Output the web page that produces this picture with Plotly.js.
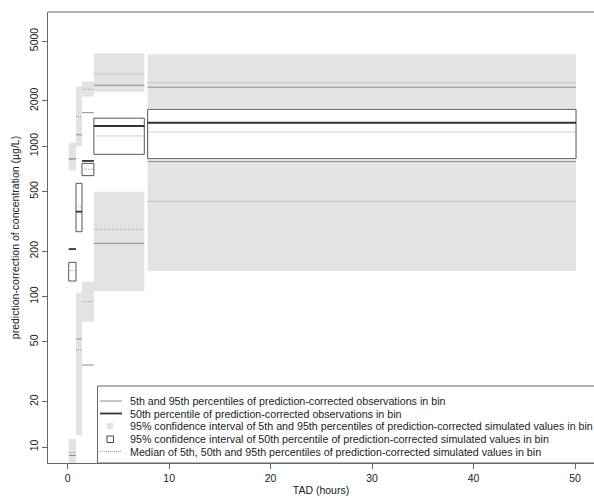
<!DOCTYPE html>
<html>
<head>
<meta charset="utf-8">
<script src="https://cdn.plot.ly/plotly-3.0.1.min.js"></script>
<style>
  html, body { margin: 0; padding: 0; background: #fff; }
  #vpc { width: 594px; height: 496px; }
</style>
</head>
<body>
<div id="vpc"></div>
<script>
// Time-after-dose bins (hours)
const binLo = [0.10, 0.82, 1.41, 2.58, 7.88];
const binHi = [0.82, 1.41, 2.58, 7.55, 50.1];

// 95% CI of the simulated 95th percentile
const ci95Lo = [690, 1000, 2130, 2300, 1790];
const ci95Hi = [1060, 2490, 2690, 4150, 4080];
// 95% CI of the simulated 50th percentile
const ci50Lo = [127, 270, 637, 883, 826];
const ci50Hi = [169, 566, 769, 1535, 1758];
// 95% CI of the simulated 5th percentile
const ci5Lo = [6, 12.0, 68, 109, 148];
const ci5Hi = [11.3, 106, 126, 498, 810];

// Medians of simulated percentiles
const sim95 = [815, 1570, 2390, 3020, 2640];
const sim50 = [149, 396, 702, 1170, 1242];
const sim5 = [9.2, 44.2, 92.5, 280, 430];

// Prediction-corrected observed percentiles
const obs95 = [825, 1190, 1670, 2540, 2465];
const obs50 = [207, 367, 798, 1362, 1432];
const obs5 = [8.8, 52.3, 35.1, 226, 790];

const xTicks = [0, 10, 20, 30, 40, 50];
const yTicks = [10, 20, 50, 100, 200, 500, 1000, 2000, 5000];

const legendLabels = [
  "5th and 95th percentiles of prediction-corrected observations in bin",
  "50th percentile of prediction-corrected observations in bin",
  "95% confidence interval of 5th and 95th percentiles of prediction-corrected simulated values in bin",
  "95% confidence interval of 50th percentile of prediction-corrected simulated values in bin",
  "Median of 5th, 50th and 95th percentiles of prediction-corrected simulated values in bin"
];

// one closed rectangle per bin, segments separated by null
function boxes(lo, hi) {
  const x = [], y = [];
  for (let i = 0; i < binLo.length; i++) {
    x.push(binLo[i], binHi[i], binHi[i], binLo[i], binLo[i], null);
    y.push(lo[i], lo[i], hi[i], hi[i], lo[i], null);
  }
  return { x, y };
}
// one horizontal segment per bin
function steps(v) {
  const x = [], y = [];
  for (let i = 0; i < binLo.length; i++) {
    x.push(binLo[i], binHi[i], null);
    y.push(v[i], v[i], null);
  }
  return { x, y };
}

const grey = '#e3e3e3';
const dotted = { width: 1, color: '#a0a0a0', dash: '1px,1px' };
const traces = [];
const band95 = boxes(ci95Lo, ci95Hi);
const band5 = boxes(ci5Lo, ci5Hi);
[band95, band5].forEach(b => traces.push({
  x: b.x, y: b.y, type: 'scatter', mode: 'lines', fill: 'toself',
  fillcolor: grey, line: { width: 0, color: grey }, hoverinfo: 'skip'
}));
const band50 = boxes(ci50Lo, ci50Hi);
traces.push({
  x: band50.x, y: band50.y, type: 'scatter', mode: 'lines', fill: 'toself',
  fillcolor: '#ffffff', line: { width: 1, color: '#555555' }, hoverinfo: 'skip'
});
[sim95, sim50, sim5].forEach(v => {
  const s = steps(v);
  traces.push({ x: s.x, y: s.y, type: 'scatter', mode: 'lines',
    line: dotted, hoverinfo: 'skip' });
});
[obs95, obs5].forEach(v => {
  const s = steps(v);
  traces.push({ x: s.x, y: s.y, type: 'scatter', mode: 'lines',
    line: { width: 1, color: '#8c8c8c' }, hoverinfo: 'skip' });
});
const m = steps(obs50);
traces.push({ x: m.x, y: m.y, type: 'scatter', mode: 'lines',
  line: { width: 1.8, color: '#333333' }, hoverinfo: 'skip' });

// plot-area pixel frame used for the hand-drawn legend
const L = 48, R = 594, T = 12, B = 463;
const px = v => (v - L) / (R - L);
const py = v => (B - v) / (B - T);

const shapes = [
  // top edge of the frame
  { type: 'line', xref: 'paper', yref: 'paper', x0: 0, x1: 1, y0: 1, y1: 1,
    line: { color: '#666666', width: 1 } },
  // legend box
  { type: 'rect', xref: 'paper', yref: 'paper', x0: px(97.5), x1: 1.02, y0: 0, y1: py(386),
    fillcolor: '#ffffff', line: { color: '#666666', width: 1 }, layer: 'above' },
  { type: 'line', xref: 'paper', yref: 'paper', x0: px(100), x1: px(122), y0: py(401), y1: py(401),
    line: { color: '#8c8c8c', width: 1 }, layer: 'above' },
  { type: 'line', xref: 'paper', yref: 'paper', x0: px(100), x1: px(122), y0: py(413.5), y1: py(413.5),
    line: { color: '#333333', width: 1.8 }, layer: 'above' },
  { type: 'rect', xref: 'paper', yref: 'paper', x0: px(107), x1: px(113), y0: py(429), y1: py(423),
    fillcolor: grey, line: { width: 0 }, layer: 'above' },
  { type: 'rect', xref: 'paper', yref: 'paper', x0: px(107), x1: px(113.5), y0: py(442.5), y1: py(436),
    fillcolor: 'rgba(0,0,0,0)', line: { color: '#444444', width: 1 }, layer: 'above' },
  { type: 'line', xref: 'paper', yref: 'paper', x0: px(100), x1: px(122), y0: py(451.5), y1: py(451.5),
    line: dotted, layer: 'above' }
];

const FONT = 'Liberation Sans, Arial, sans-serif';
const rowY = [401, 413.5, 426, 439, 451.5];
const annotations = legendLabels.map((t, i) => ({
  text: t, xref: 'paper', yref: 'paper', x: px(128), y: py(rowY[i]),
  xanchor: 'left', yanchor: 'middle', showarrow: false,
  font: { family: FONT, size: 10.7, color: '#222222' }
}));

const layout = {
  width: 594, height: 496,
  margin: { l: L, r: 594 - R, t: T, b: 496 - B, pad: 0 },
  paper_bgcolor: '#ffffff', plot_bgcolor: '#ffffff',
  showlegend: false,
  font: { family: FONT, size: 10.5, color: '#222222' },
  xaxis: {
    range: [-1.94, 51.87], tickmode: 'array', tickvals: xTicks,
    ticks: 'outside', ticklen: 5, tickcolor: '#666666',
    showline: true, linecolor: '#666666', linewidth: 1, mirror: false,
    showgrid: false, zeroline: false,
    tickfont: { size: 10.5, color: '#222222' },
    title: { text: 'TAD (hours)', font: { size: 10.5, color: '#222222' }, standoff: 4 }
  },
  yaxis: {
    type: 'log', range: [0.894, 3.892], tickmode: 'array', tickvals: yTicks,
    ticktext: yTicks.map(String), tickangle: -90,
    ticks: 'outside', ticklen: 5, tickcolor: '#666666',
    showline: true, linecolor: '#666666', linewidth: 1, mirror: false,
    showgrid: false, zeroline: false,
    tickfont: { size: 10.5, color: '#222222' },
    title: { text: 'prediction-correction of concentration (µg/L)',
      font: { size: 10.5, color: '#222222' }, standoff: 6 }
  },
  shapes: shapes,
  annotations: annotations
};

Plotly.newPlot('vpc', traces, layout, { staticPlot: true, displayModeBar: false });
</script>
</body>
</html>
